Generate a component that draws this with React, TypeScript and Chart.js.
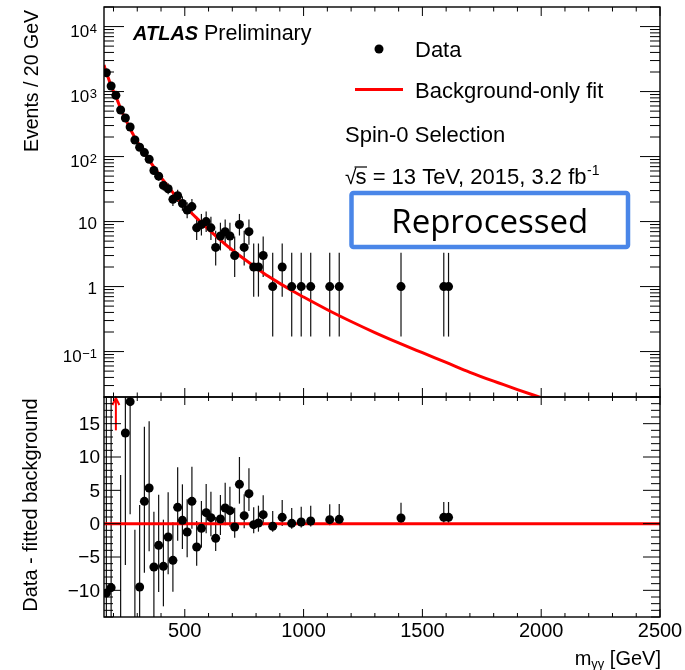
import React, { useEffect, useRef } from 'react';
import { Chart, registerables } from 'chart.js';

Chart.register(...registerables);

const FONT = "'Liberation Sans', Arial, Helvetica, sans-serif";

// ---------------- data ----------------
// diphoton mass bin centres [GeV]
const massBins = [170, 190, 210, 230, 250, 270, 290, 310, 330, 350, 370, 390, 410, 430, 450, 470, 490, 510, 530, 550, 570, 590, 610, 630, 650, 670, 690, 710, 730, 750, 770, 790, 810, 830, 870, 910, 950, 990, 1030, 1110, 1150, 1410, 1590, 1610];
// events per 20 GeV
const eventCounts = [1950, 1220, 875, 520, 392, 285, 180, 139, 115, 91, 61, 50, 36, 32, 22, 25, 19, 15, 17, 8, 9, 10, 8, 4, 6, 7, 6, 3, 9, 4, 7, 2, 2, 3, 1, 2, 1, 1, 1, 1, 1, 1, 1, 1];
// downward / upward error sizes
const errLow = [44.2, 34.9, 29.6, 22.8, 19.8, 16.9, 13.4, 11.8, 10.7, 9.5, 7.8, 7.0, 6.0, 5.6, 4.7, 5.0, 4.3, 3.8, 4.1, 2.8, 2.9, 3.1, 2.8, 1.9, 2.4, 2.6, 2.4, 1.6, 2.9, 1.9, 2.6, 1.3, 1.3, 1.6, 0.83, 1.3, 0.83, 0.83, 0.83, 0.83, 0.83, 0.83, 0.83, 0.83];
const errHigh = [44.7, 35.4, 30.1, 23.3, 20.3, 17.4, 13.9, 12.3, 11.2, 10.0, 8.3, 7.6, 7.0, 6.7, 5.7, 6.0, 5.4, 4.9, 5.2, 3.9, 4.1, 4.3, 3.9, 3.2, 3.6, 3.8, 3.6, 2.9, 4.1, 3.2, 3.8, 2.6, 2.6, 2.9, 2.3, 2.6, 2.3, 2.3, 2.3, 2.3, 2.3, 2.3, 2.3, 2.3];
// data - fitted background
const residuals = [-10.4, -9.6, 22, -16, 13.6, 18.3, -14.8, -9.5, 3.35, 5.35, -6.5, -3.25, -6.4, -2.0, -5.5, 2.45, 0.5, -1.25, 3.35, -3.5, -0.7, 1.65, 0.9, -2.2, 0.7, 2.35, 1.95, -0.5, 5.9, 1.2, 4.5, -0.15, 0.1, 1.35, -0.4, 0.95, 0.05, 0.25, 0.4, 0.6, 0.65, 0.85, 0.95, 0.95];
// background-only fit curve
const fitMass = [160, 170, 180, 190, 200, 210, 220, 230, 240, 250, 260, 270, 280, 290, 300, 320, 340, 360, 380, 400, 420, 440, 460, 480, 500, 550, 600, 650, 700, 750, 800, 850, 900, 950, 1000, 1100, 1200, 1300, 1400, 1500, 1600, 1700, 1800, 1900, 2000];
const fitEvents = [2560, 1960, 1550, 1230, 1010, 840, 680, 545, 452, 378, 318, 267, 228, 195, 170, 131, 101, 78, 61, 48, 38.5, 31, 25.2, 20.7, 17.2, 11.3, 7.6, 5.2, 3.65, 2.65, 1.95, 1.45, 1.12, 0.87, 0.69, 0.44, 0.29, 0.196, 0.136, 0.096, 0.068, 0.048, 0.035, 0.026, 0.0195];

// axes
const X_MIN = 160;
const X_MAX = 2500;
const Y_MIN = 0.02;
const Y_MAX = 20000;
const R_MIN = -14;
const R_MAX = 19;
const xMajorTicks = [500, 1000, 1500, 2000, 2500];
const xTickLabels = ['500', '1000', '1500', '2000', '2500'];
const logTickExponents = [-1, 0, 1, 2, 3, 4];
const resTicks = [-10, -5, 0, 5, 10, 15];
const resTickLabels = ['\u221210', '\u22125', '0', '5', '10', '15'];

function line(ctx: CanvasRenderingContext2D, x1: number, y1: number, x2: number, y2: number) {
  ctx.beginPath();
  ctx.moveTo(x1, y1);
  ctx.lineTo(x2, y2);
  ctx.stroke();
}

const decorPlugin = {
  id: 'atlasDecor',
  beforeDatasetDraw(chart: any, args: any) {
    const ys = args.meta.yScale;
    const ctx = chart.ctx;
    ctx.save();
    ctx.beginPath();
    ctx.rect(0, ys.top, chart.width, ys.bottom - ys.top);
    ctx.clip();
  },
  afterDatasetDraw(chart: any) {
    chart.ctx.restore();
  },
  beforeDatasetsDraw(chart: any) {
    const ctx: CanvasRenderingContext2D = chart.ctx;
    const x = chart.scales.x, y = chart.scales.y, r = chart.scales.y2;
    ctx.save();
    ctx.strokeStyle = '#111';
    ctx.lineWidth = 1.2;
    // top panel error bars
    ctx.save();
    ctx.beginPath();
    ctx.rect(0, y.top, chart.width, y.bottom - y.top);
    ctx.clip();
    massBins.forEach((m, i) => {
      const px = x.getPixelForValue(m);
      const lo = Math.max(eventCounts[i] - errLow[i], Y_MIN / 10);
      const hi = eventCounts[i] + errHigh[i];
      line(ctx, px, y.getPixelForValue(lo), px, y.getPixelForValue(hi));
    });
    ctx.restore();
    // lower panel error bars
    ctx.save();
    ctx.beginPath();
    ctx.rect(0, r.top, chart.width, r.bottom - r.top);
    ctx.clip();
    massBins.forEach((m, i) => {
      if (residuals[i] > R_MAX) return;
      const px = x.getPixelForValue(m);
      line(ctx, px, r.getPixelForValue(residuals[i] - errLow[i]), px, r.getPixelForValue(residuals[i] + errHigh[i]));
    });
    ctx.restore();
    ctx.restore();
  },
  afterDraw(chart: any) {
    const ctx: CanvasRenderingContext2D = chart.ctx;
    const x = chart.scales.x, y = chart.scales.y, r = chart.scales.y2;
    ctx.save();

    // off-scale arrows
    ctx.strokeStyle = '#ff0000';
    ctx.lineWidth = 2;
    massBins.forEach((m, i) => {
      if (residuals[i] <= R_MAX) return;
      const px = x.getPixelForValue(m);
      const y0 = r.getPixelForValue(R_MAX - 5);
      const y1 = r.top + 1;
      line(ctx, px, y0, px, y1);
      ctx.beginPath();
      ctx.moveTo(px - 3.5, y1 + 7);
      ctx.lineTo(px, y1);
      ctx.lineTo(px + 3.5, y1 + 7);
      ctx.stroke();
    });

    // frames
    ctx.strokeStyle = '#000';
    ctx.lineWidth = 1.4;
    ctx.strokeRect(x.left, y.top, x.right - x.left, y.bottom - y.top);
    ctx.strokeRect(x.left, r.top, x.right - x.left, r.bottom - r.top);

    // x ticks
    ctx.lineWidth = 1;
    for (let v = 200; v <= X_MAX; v += 100) {
      const px = x.getPixelForValue(v);
      const major = v % 500 === 0;
      const lt = major ? 9 : 4.5;
      const lb = major ? 8 : 4;
      line(ctx, px, y.top, px, y.top + lt);
      line(ctx, px, y.bottom, px, y.bottom - lt);
      line(ctx, px, r.top, px, r.top + lb);
      line(ctx, px, r.bottom, px, r.bottom - lb);
    }
    // log y ticks
    for (let e = -2; e <= 4; e++) {
      for (let m = 1; m <= 9; m++) {
        const v = m * Math.pow(10, e);
        if (v < Y_MIN || v > Y_MAX) continue;
        const py = y.getPixelForValue(v);
        const len = m === 1 ? 20 : 10;
        line(ctx, x.left, py, x.left + len, py);
        line(ctx, x.right, py, x.right - len, py);
      }
    }
    // residual y ticks
    for (let v = R_MIN; v <= R_MAX; v++) {
      const py = r.getPixelForValue(v);
      const len = v % 5 === 0 ? 17 : 9;
      line(ctx, x.left, py, x.left + len, py);
      line(ctx, x.right, py, x.right - len, py);
    }

    ctx.fillStyle = '#000';
    // x tick labels
    ctx.font = `20px ${FONT}`;
    ctx.textAlign = 'center';
    ctx.textBaseline = 'alphabetic';
    xMajorTicks.forEach((v, i) => {
      ctx.fillText(xTickLabels[i], x.getPixelForValue(v), r.bottom + 20);
    });
    // residual labels
    ctx.font = `19px ${FONT}`;
    ctx.textAlign = 'right';
    ctx.textBaseline = 'middle';
    resTicks.forEach((v, i) => {
      ctx.fillText(resTickLabels[i], x.left - 4, r.getPixelForValue(v) + 1);
    });
    // log labels
    ctx.textBaseline = 'alphabetic';
    const labR = x.left - 7;
    logTickExponents.forEach((e) => {
      const py = y.getPixelForValue(Math.pow(10, e));
      if (e === 0 || e === 1) {
        ctx.font = `17px ${FONT}`;
        ctx.textAlign = 'right';
        ctx.fillText(e === 0 ? '1' : '10', labR, py + 7);
      } else {
        const sup = e < 0 ? '\u2212' + String(-e) : String(e);
        ctx.font = `13px ${FONT}`;
        ctx.textAlign = 'right';
        const sw = ctx.measureText(sup).width;
        ctx.fillText(sup, labR, py + 6.5);
        ctx.font = `17px ${FONT}`;
        ctx.fillText('10', labR - sw - 0.5, py + 10.5);
      }
    });

    // axis titles
    ctx.save();
    ctx.translate(33, 10);
    ctx.rotate(-Math.PI / 2);
    ctx.font = `19.5px ${FONT}`;
    ctx.textAlign = 'right';
    ctx.textBaseline = 'middle';
    ctx.fillText('Events / 20 GeV', 0, 0);
    ctx.restore();

    ctx.save();
    ctx.translate(31, (r.top + r.bottom) / 2 - 2);
    ctx.rotate(-Math.PI / 2);
    ctx.font = `20px ${FONT}`;
    ctx.textAlign = 'center';
    ctx.textBaseline = 'middle';
    ctx.fillText('Data - fitted background', 0, 0);
    ctx.restore();

    // x title: m_{γγ} [GeV]
    ctx.textAlign = 'left';
    ctx.textBaseline = 'alphabetic';
    ctx.font = `20px ${FONT}`;
    const t3 = ' [GeV]';
    const w3 = ctx.measureText(t3).width;
    ctx.font = `13px ${FONT}`;
    const w2 = ctx.measureText('\u03b3\u03b3').width;
    ctx.font = `20px ${FONT}`;
    const w1 = ctx.measureText('m').width;
    const xEnd = x.right + 1;
    const xs = xEnd - w3 - w2 - w1;
    ctx.fillText('m', xs, 665);
    ctx.font = `13px ${FONT}`;
    ctx.fillText('\u03b3\u03b3', xs + w1, 668);
    ctx.font = `20px ${FONT}`;
    ctx.fillText(t3, xs + w1 + w2, 665);

    // ATLAS label
    ctx.font = `italic bold 20px ${FONT}`;
    ctx.fillText('ATLAS', 133, 40);
    ctx.font = `21.5px ${FONT}`;
    ctx.fillText('Preliminary', 204, 40);

    // legend
    ctx.beginPath();
    ctx.arc(379, 49, 4.5, 0, Math.PI * 2);
    ctx.fill();
    ctx.font = `22px ${FONT}`;
    ctx.fillText('Data', 415, 57);
    ctx.strokeStyle = '#ff0000';
    ctx.lineWidth = 3;
    line(ctx, 355, 89.5, 403, 89.5);
    ctx.fillText('Background-only fit', 415, 98);
    ctx.fillText('Spin-0 Selection', 345, 141.5);

    // sqrt(s) line
    let cx = 345;
    const base = 183.5;
    ctx.font = `21px ${FONT}`;
    ctx.fillText('\u221a', cx, base);
    cx += ctx.measureText('\u221a').width - 1;
    ctx.font = `22px ${FONT}`;
    const sW = ctx.measureText('s').width;
    ctx.fillText('s', cx, base);
    ctx.strokeStyle = '#000';
    ctx.lineWidth = 1.2;
    line(ctx, cx - 1, base - 16.5, cx + sW + 0.5, base - 16.5);
    cx += sW;
    const rest = ' = 13 TeV, 2015, 3.2 fb';
    ctx.fillText(rest, cx, base);
    cx += ctx.measureText(rest).width;
    ctx.font = `14px ${FONT}`;
    ctx.fillText('-1', cx + 0.5, base - 9);

    // Reprocessed box
    ctx.strokeStyle = '#4a86e8';
    ctx.lineWidth = 4.5;
    const bx = 351.5, by = 193, bw = 276.5, bh = 54;
    ctx.beginPath();
    if ((ctx as any).roundRect) {
      (ctx as any).roundRect(bx, by, bw, bh, 2);
    } else {
      ctx.rect(bx, by, bw, bh);
    }
    ctx.fillStyle = '#fff';
    ctx.fill();
    ctx.stroke();
    ctx.fillStyle = '#000';
    ctx.font = `33px 'Open Sans', 'Noto Sans', sans-serif`;
    ctx.textAlign = 'center';
    ctx.fillText('Reprocessed', bx + bw / 2, 233);

    ctx.restore();
  },
};

export default function App() {
  const canvasRef = useRef<HTMLCanvasElement | null>(null);

  useEffect(() => {
    const canvas = canvasRef.current;
    if (!canvas) return;
    const chart = new Chart(canvas, {
      type: 'scatter',
      data: {
        datasets: [
          {
            label: 'Data',
            data: massBins.map((m, i) => ({ x: m, y: eventCounts[i] })),
            yAxisID: 'y',
            pointRadius: 4.5,
            pointBackgroundColor: '#000',
            pointBorderWidth: 0,
            showLine: false,
          } as any,
          {
            label: 'Residual',
            data: massBins.map((m, i) => ({ x: m, y: residuals[i] > R_MAX ? null : residuals[i] })),
            yAxisID: 'y2',
            pointRadius: 4.5,
            pointBackgroundColor: '#000',
            pointBorderWidth: 0,
            showLine: false,
          } as any,
          {
            label: 'Background-only fit',
            data: fitMass.map((m, i) => ({ x: m, y: fitEvents[i] })),
            yAxisID: 'y',
            showLine: true,
            borderColor: '#ff0000',
            borderWidth: 3,
            pointRadius: 0,
            cubicInterpolationMode: 'monotone',
          } as any,
          {
            label: 'Zero',
            data: [
              { x: X_MIN, y: 0 },
              { x: X_MAX, y: 0 },
            ],
            yAxisID: 'y2',
            showLine: true,
            borderColor: '#ff0000',
            borderWidth: 3,
            pointRadius: 0,
          } as any,
        ],
      },
      options: {
        responsive: false,
        animation: false,
        devicePixelRatio: 1,
        events: [],
        layout: { padding: { left: 104, right: 25, top: 7, bottom: 53 } },
        plugins: {
          legend: { display: false },
          tooltip: { enabled: false },
        },
        scales: {
          x: { type: 'linear', min: X_MIN, max: X_MAX, display: false },
          y: {
            type: 'logarithmic',
            min: Y_MIN,
            max: Y_MAX,
            display: false,
            stack: 'panels',
            stackWeight: 390,
            weight: 2,
          },
          y2: {
            type: 'linear',
            min: R_MIN,
            max: R_MAX,
            display: false,
            stack: 'panels',
            stackWeight: 220,
            weight: 1,
          },
        } as any,
      },
      plugins: [decorPlugin as any],
    });
    return () => chart.destroy();
  }, []);

  return (
    <div style={{ position: 'fixed', left: 0, top: 0, width: 685, height: 670, background: '#fff' }}>
      <canvas ref={canvasRef} width={685} height={670} style={{ display: 'block', width: 685, height: 670 }} />
    </div>
  );
}
